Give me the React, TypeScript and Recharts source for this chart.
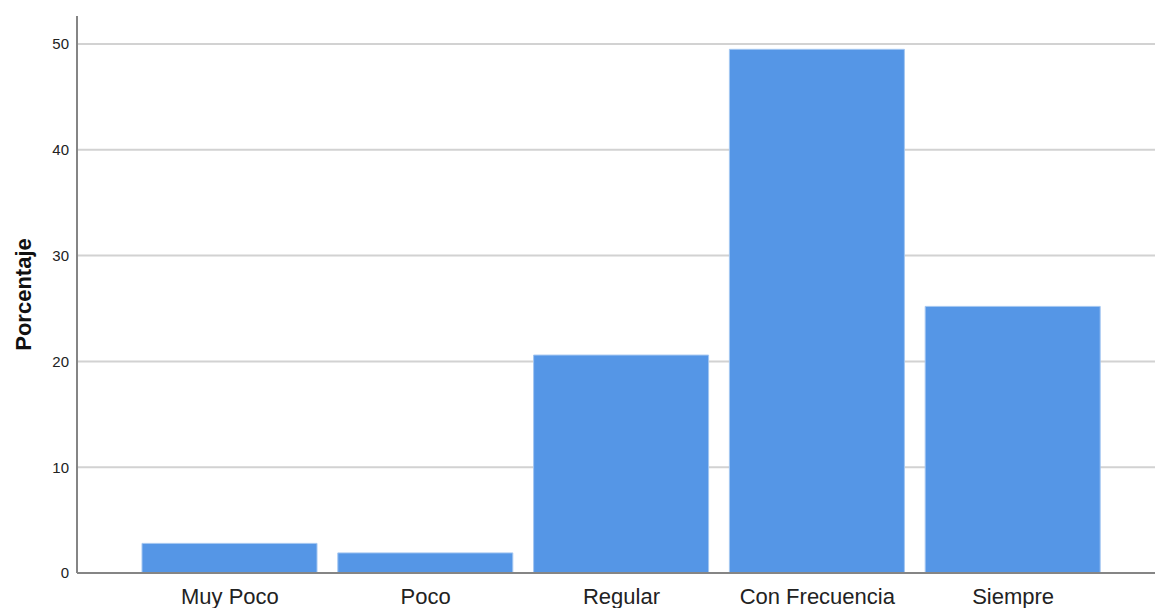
import React from 'react';
import { BarChart, Bar, XAxis, YAxis, CartesianGrid } from 'recharts';

const categories = ['Muy Poco', 'Poco', 'Regular', 'Con Frecuencia', 'Siempre'];
const percentages = [2.8, 1.9, 20.6, 49.5, 25.2];
const yTicks = [0, 10, 20, 30, 40, 50];
const yMax = 52.65;

const data = categories.map((c, i) => ({ name: c, value: percentages[i] }));

const FONT = '"Liberation Sans", Arial, sans-serif';

const YLabel = (props: any) => {
  const vb = props.viewBox || { x: 0, y: 0, width: 0, height: 0 };
  const cx = vb.x + 31;
  const cy = vb.y + vb.height / 2;
  return (
    <text
      x={cx}
      y={cy}
      transform={`rotate(-90, ${cx}, ${cy})`}
      textAnchor="middle"
      fontFamily={FONT}
      fontWeight="bold"
      fontSize={22}
      fill="#111"
    >
      Porcentaje
    </text>
  );
};

export default function App() {
  return (
    <div style={{ position: 'absolute', left: 0, top: 0, width: 1155, height: 608, background: '#fff' }}>
      <BarChart
        width={1155}
        height={608}
        data={data}
        margin={{ top: 16, right: 0, left: 0, bottom: 0 }}
      >
        <CartesianGrid
          vertical={false}
          horizontalValues={yTicks}
          stroke="#d2d2d2"
          strokeWidth={2}
        />
        <XAxis
          dataKey="name"
          height={35}
          padding={{ left: 55, right: 44 }}
          tickLine={false}
          tickSize={0}
          tickMargin={15}
          axisLine={{ stroke: '#858585', strokeWidth: 2 }}
          tick={{ fill: '#222', fontSize: 22, fontFamily: FONT }}
          interval={0}
        />
        <YAxis
          width={77}
          domain={[0, yMax]}
          ticks={yTicks}
          allowDataOverflow
          tickLine={false}
          tickSize={0}
          tickMargin={8}
          axisLine={{ stroke: '#858585', strokeWidth: 2 }}
          tick={{ fill: '#222', fontSize: 15, fontFamily: FONT }}
          label={{ content: YLabel }}
        />
        <Bar
          dataKey="value"
          fill="#5596E6"
          stroke="#A3C6F1"
          strokeWidth={1}
          barSize={175}
          isAnimationActive={false}
        />
      </BarChart>
    </div>
  );
}
